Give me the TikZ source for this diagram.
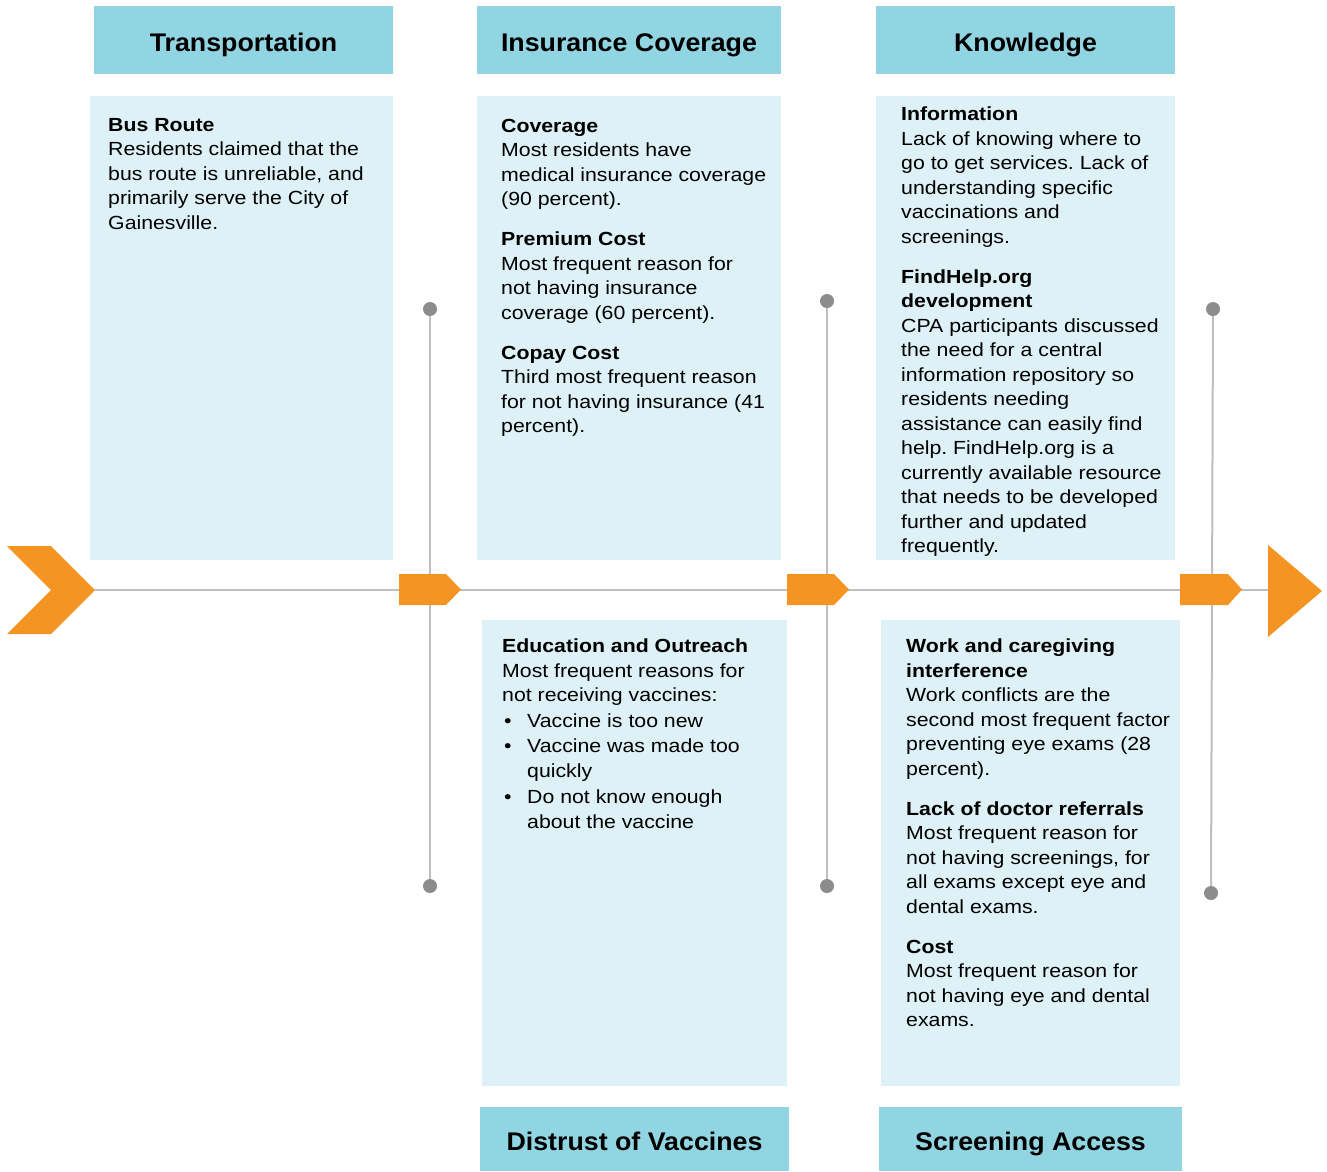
\documentclass[tikz,border=0pt]{standalone}
\usepackage{fontspec}
\setmainfont[FakeStretch=1.12]{Liberation Sans}
\newfontfamily\hdrfont[FakeStretch=1.05]{Liberation Sans}
\definecolor{hdr}{RGB}{146,213,226}
\definecolor{bodyc}{RGB}{221,241,247}
\definecolor{orng}{RGB}{243,148,35}
\definecolor{spinec}{RGB}{191,191,191}
\definecolor{dotc}{RGB}{140,140,140}
\newcommand{\bul}{\makebox[25pt][l]{\hspace{2pt}\textbullet}}
\newcommand{\ind}{\hspace*{25pt}}
\begin{document}
\frenchspacing
\begin{tikzpicture}[x=1pt,y=-1pt,
 hdrbox/.style={fill=hdr, draw=none, inner sep=0pt, text height=24pt, text depth=2pt, font=\hdrfont\fontsize{25.5}{30}\selectfont\bfseries},
 bodybox/.style={fill=bodyc, draw=none, inner sep=0pt},
 txt/.style={anchor=north west, inner sep=0pt, align=left, font=\fontsize{19}{24.5}\selectfont},
 bone/.style={draw=spinec, line width=2pt},
 dot/.style={circle, fill=dotc, draw=none, inner sep=0pt, minimum size=14pt},
 tag/.style={fill=orng, draw=none}]
\useasboundingbox (0,0) rectangle (1327,1171);

% header boxes
\node[hdrbox, minimum width=299pt, minimum height=68pt] (hT) at (243.5,40) {Transportation};
\node[hdrbox, minimum width=304pt, minimum height=68pt] (hI) at (629,40) {Insurance Coverage};
\node[hdrbox, minimum width=299pt, minimum height=68pt] (hK) at (1025.5,40) {Knowledge};
\node[hdrbox, minimum width=309pt, minimum height=64pt] (hD) at (634.5,1139) {Distrust of Vaccines};
\node[hdrbox, minimum width=303pt, minimum height=64pt] (hS) at (1030.5,1139) {Screening Access};

% body boxes
\node[bodybox, minimum width=303pt, minimum height=464pt] (bT) at (241.5,328) {};
\node[bodybox, minimum width=304pt, minimum height=464pt] (bI) at (629,328) {};
\node[bodybox, minimum width=299pt, minimum height=464pt] (bK) at (1025.5,328) {};
\node[bodybox, minimum width=305pt, minimum height=466pt] (bE) at (634.5,853) {};
\node[bodybox, minimum width=299pt, minimum height=466pt] (bW) at (1030.5,853) {};

% spine
\coordinate (tail) at (95,590);
\coordinate (head) at (1268,590);
\draw[bone] (tail) -- (head);

% vertical bones
\node[dot] (d1t) at (430,309) {};
\node[dot] (d1b) at (430,886) {};
\node[dot] (d2t) at (827,301) {};
\node[dot] (d2b) at (827,886) {};
\node[dot] (d3t) at (1213,309) {};
\node[dot] (d3b) at (1211,893) {};
\draw[bone] (d1t) -- (d1b);
\draw[bone] (d2t) -- (d2b);
\draw[bone] (d3t) -- (d3b);

% orange shapes
\fill[orng] (7,546) -- (51,546) -- (95,590) -- (51,634) -- (7,634) -- (51,590) -- cycle;
\fill[orng] (399,574) -- (446,574) -- (461,589.5) -- (446,605) -- (399,605) -- cycle;
\fill[orng] (787,574) -- (834,574) -- (849,589.5) -- (834,605) -- (787,605) -- cycle;
\fill[orng] (1180,574) -- (1228,574) -- (1242,589.5) -- (1228,605) -- (1180,605) -- cycle;
\fill[orng] (1268,545) -- (1322,591) -- (1268,637) -- cycle;

% texts
\node[txt] (tT) at (108,118) {\textbf{Bus Route}\\Residents claimed that the\\bus route is unreliable, and\\primarily serve the City of\\Gainesville.};

\node[txt] (tI) at (501,119) {\textbf{Coverage}\\Most residents have\\medical insurance coverage\\(90 percent).\\[15.5pt]\textbf{Premium Cost}\\Most frequent reason for\\not having insurance\\coverage (60 percent).\\[15.5pt]\textbf{Copay Cost}\\Third most frequent reason\\for not having insurance (41\\percent).};

\node[txt] (tK) at (901,107) {\textbf{Information}\\Lack of knowing where to\\go to get services. Lack of\\understanding specific\\vaccinations and\\screenings.\\[15.5pt]\textbf{FindHelp.org}\\\textbf{development}\\CPA participants discussed\\the need for a central\\information repository so\\residents needing\\assistance can easily find\\help. FindHelp.org is a\\currently available resource\\that needs to be developed\\further and updated\\frequently.};

\node[txt] (tE) at (502,639) {\textbf{Education and Outreach}\\Most frequent reasons for\\not receiving vaccines:\\[0.8pt]\bul Vaccine is too new\\[0.8pt]\bul Vaccine was made too\\[0.8pt]\ind quickly\\[0.8pt]\bul Do not know enough\\[0.8pt]\ind about the vaccine};

\node[txt] (tW) at (906,639) {\textbf{Work and caregiving}\\\textbf{interference}\\Work conflicts are the\\second most frequent factor\\preventing eye exams (28\\percent).\\[15.5pt]\textbf{Lack of doctor referrals}\\Most frequent reason for\\not having screenings, for\\all exams except eye and\\dental exams.\\[15.5pt]\textbf{Cost}\\Most frequent reason for\\not having eye and dental\\exams.};
\end{tikzpicture}
\end{document}
